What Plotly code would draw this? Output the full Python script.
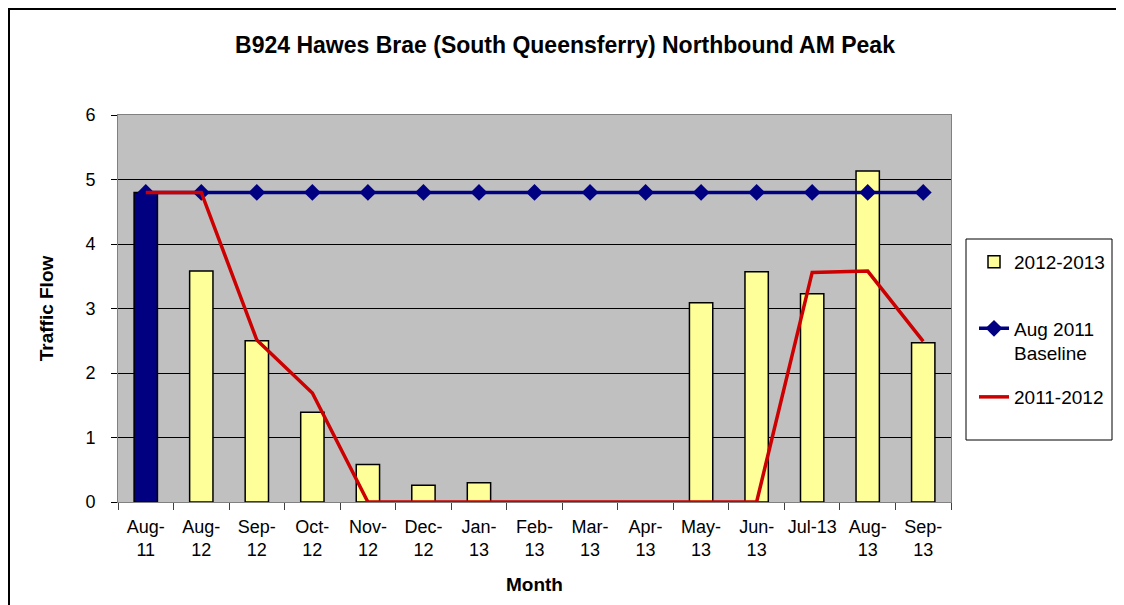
import plotly.graph_objects as go

months = ["Aug-<br>11", "Aug-<br>12", "Sep-<br>12", "Oct-<br>12", "Nov-<br>12", "Dec-<br>12",
          "Jan-<br>13", "Feb-<br>13", "Mar-<br>13", "Apr-<br>13", "May-<br>13", "Jun-<br>13",
          "Jul-13", "Aug-<br>13", "Sep-<br>13"]
flow_2012_13 = [None, 3.58, 2.50, 1.39, 0.58, 0.26, 0.30, 0, 0, 0, 3.09, 3.57, 3.23, 5.13, 2.47]
aug11_bar = [4.8] + [None] * 14
baseline = [4.8] * 15
flow_2011_12 = [4.8, 4.8, 2.51, 1.69, 0, 0, 0, 0, 0, 0, 0, 0, 3.56, 3.58, 2.49]

FONT = "Liberation Sans, Arial, sans-serif"

# page is rendered with an 8px body margin; work in page pixel coordinates
OFF = 8
PAGE_W, PAGE_H = 1124, 605
W, H = PAGE_W - OFF, PAGE_H - OFF
L, R, T, B = 118, 951, 115, 502          # plot area in page pixels
pw, ph = R - L, B - T


def px2x(px):
    return (px - L) / pw


def px2y(py):
    return (B - py) / ph


fig = go.Figure()
fig.add_trace(go.Bar(x=months, y=aug11_bar, width=0.42, showlegend=False,
                     marker=dict(color="#000080", line=dict(color="black", width=1.5))))
fig.add_trace(go.Bar(x=months, y=flow_2012_13, width=0.42, name="2012-2013",
                     marker=dict(color="#FFFF99", line=dict(color="black", width=1.5)),
                     legend="legend"))
fig.add_trace(go.Scatter(x=months, y=baseline, name="Aug 2011<br>Baseline", mode="lines+markers",
                         line=dict(color="#000080", width=3.5),
                         marker=dict(symbol="diamond", size=13, color="#000080"),
                         legend="legend2"))
fig.add_trace(go.Scatter(x=months, y=flow_2011_12, name="2011-2012", mode="lines",
                         line=dict(color="#CC0000", width=3.5),
                         legend="legend3"))

leg_common = dict(x=px2x(974), xanchor="left", yanchor="middle", bgcolor="rgba(0,0,0,0)",
                  borderwidth=0, font=dict(family=FONT, size=19, color="black"),
                  itemwidth=30, valign="top")

fig.update_layout(
    width=W, height=H,
    margin=dict(l=L - OFF, r=W - (R - OFF), t=T - OFF, b=H - (B - OFF), pad=0),
    paper_bgcolor="white",
    plot_bgcolor="#C0C0C0",
    barmode="overlay",
    font=dict(family=FONT, size=18, color="black"),
    title=dict(text="<b>B924 Hawes Brae (South Queensferry) Northbound AM Peak</b>",
               x=(565 - OFF) / W, xanchor="center", xref="container",
               y=1 - (45 - OFF) / H, yanchor="middle", yref="container",
               font=dict(family=FONT, size=23, color="black")),
    legend=dict(leg_common, y=px2y(262)),
    legend2=dict(leg_common, y=px2y(341)),
    legend3=dict(leg_common, y=px2y(397)),
    xaxis=dict(type="category", tickson="boundaries", ticks="outside", ticklen=7,
               tickcolor="#404040", showgrid=False, showline=True, linecolor="#808080",
               linewidth=1, mirror=True, tickangle=0, ticklabelstandoff=8,
               tickfont=dict(family=FONT, size=18),
               title=dict(text="<b>Month</b>", font=dict(family=FONT, size=19), standoff=18),
               range=[-0.5, 14.5]),
    yaxis=dict(range=[0, 6], dtick=1, ticks="outside", ticklen=6, tickcolor="black",
               showgrid=True, gridcolor="black", gridwidth=1, zeroline=False,
               showline=True, linecolor="#808080", linewidth=1, mirror=True,
               ticklabelstandoff=12,
               tickfont=dict(family=FONT, size=18),
               title=dict(text="<b>Traffic Flow</b>", font=dict(family=FONT, size=19), standoff=26)),
    shapes=[
        dict(type="rect", xref="paper", yref="paper",
             x0=px2x(9), x1=px2x(1121), y0=px2y(640), y1=px2y(OFF + 1),
             line=dict(color="black", width=2), layer="above"),
        dict(type="rect", xref="paper", yref="paper",
             x0=px2x(966), x1=px2x(1112), y0=px2y(440), y1=px2y(239),
             line=dict(color="black", width=1), fillcolor="rgba(0,0,0,0)", layer="above"),
    ],
)

fig.write_html("out.html")
